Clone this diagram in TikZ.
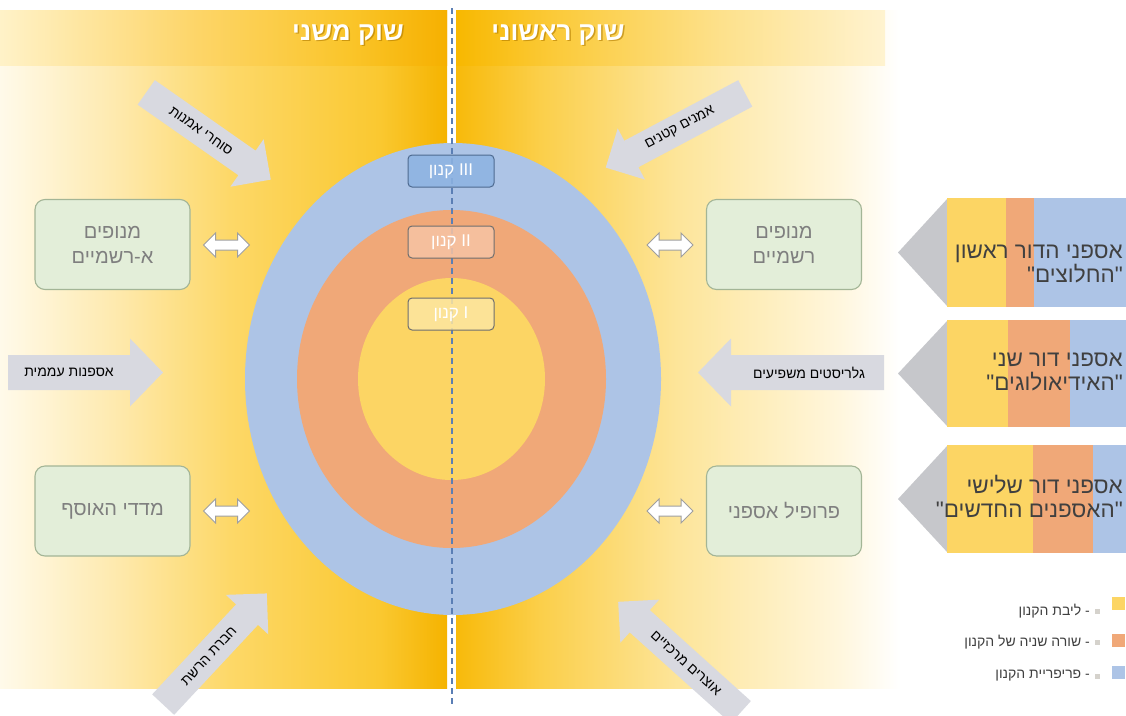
\documentclass[tikz,border=0pt]{standalone}
\usepackage{fontspec}
\setmainfont{Liberation Sans}
\newfontfamily\heb[Script=Hebrew,Ligatures=TeXOff]{Liberation Sans}
\TeXXeTstate=1
\usetikzlibrary{shapes.geometric}
\newcommand\HR[1]{{\heb\beginR #1\endR}}
\newcommand\garrow[4]{\fill[garrfill] (-#1/2,-#2) -- (#1/2-#4,-#2) -- (#1/2-#4,-#3) -- (#1/2,0) -- (#1/2-#4,#3) -- (#1/2-#4,#2) -- (-#1/2,#2) -- cycle;}
\newcommand\dblarrow{\filldraw[darr] (-23,0) -- (-11,-12) -- (-11,-5) -- (11,-5) -- (11,-12) -- (23,0) -- (11,12) -- (11,5) -- (-11,5) -- (-11,12) -- cycle;}

\definecolor{cyel}{HTML}{FCD564}
\definecolor{cora}{HTML}{F0A878}
\definecolor{cblu}{HTML}{ADC4E6}
\definecolor{garr}{HTML}{D8D9E0}
\definecolor{pgray}{HTML}{C6C7CB}
\definecolor{gboxf}{HTML}{E3EED9}
\definecolor{gboxb}{HTML}{A3B596}
\definecolor{gtxt}{HTML}{7F7F7F}
\definecolor{dtxt}{HTML}{404040}
\definecolor{dashc}{HTML}{5B7FB5}
\definecolor{kIIIf}{HTML}{8DB3E2}
\definecolor{kIIIb}{HTML}{4E6A90}
\definecolor{kIIf}{HTML}{F7C4A4}
\definecolor{kIf}{HTML}{FCE6A0}
\definecolor{kb}{HTML}{6E6E6E}
\definecolor{shadowc}{HTML}{B07A00}
\definecolor{lp0}{HTML}{FFFAEA}
\definecolor{lp1}{HTML}{FEEAB0}
\definecolor{lp2}{HTML}{FDD868}
\definecolor{lp3}{HTML}{FAC830}
\definecolor{lp4}{HTML}{F5B300}
\definecolor{rp0}{HTML}{F8BA0A}
\definecolor{rp1}{HTML}{FBCF4A}
\definecolor{rp2}{HTML}{FDE59A}
\definecolor{rp3}{HTML}{FFF6DC}
\definecolor{rp4}{HTML}{FFFFFF}
\definecolor{hl0}{HTML}{FFF2C8}
\definecolor{hl1}{HTML}{FDD568}
\definecolor{hl2}{HTML}{FAC52A}
\definecolor{hl3}{HTML}{F6B000}
\definecolor{hr0}{HTML}{F8B800}
\definecolor{hr1}{HTML}{FBCB3C}
\definecolor{hr2}{HTML}{FDE18C}
\definecolor{hr3}{HTML}{FFF3D0}
\definecolor{lmk}{HTML}{D5D2CC}

\pgfdeclarehorizontalshading{leftpanel}{100bp}{color(0bp)=(lp0); color(25bp)=(lp0); color(37.5bp)=(lp1); color(50.7bp)=(lp2); color(67.5bp)=(lp3); color(75bp)=(lp4); color(100bp)=(lp4)}
\pgfdeclarehorizontalshading{rightpanel}{100bp}{color(0bp)=(rp0); color(25bp)=(rp0); color(34.5bp)=(rp1); color(50bp)=(rp2); color(68bp)=(rp3); color(75bp)=(rp4); color(100bp)=(rp4)}
\pgfdeclarehorizontalshading{lefthead}{100bp}{color(0bp)=(hl0); color(25bp)=(hl0); color(47bp)=(hl1); color(64bp)=(hl2); color(75bp)=(hl3); color(100bp)=(hl3)}
\pgfdeclarehorizontalshading{righthead}{100bp}{color(0bp)=(hr0); color(25bp)=(hr0); color(37bp)=(hr1); color(56bp)=(hr2); color(75bp)=(hr3); color(100bp)=(hr3)}

\begin{document}
\begin{tikzpicture}[x=1pt,y=-1pt,
  garrfill/.style={fill=garr},
  darr/.style={draw=gray!75, line width=1pt, fill=white, line join=miter},
  gbox/.style={draw=gboxb, line width=1.1pt, fill=gboxf, rounded corners=10pt,
    minimum width=155pt, minimum height=90pt, text=gtxt, inner sep=0pt,
    font=\fontsize{20}{25}\selectfont, align=center},
  kbox/.style={draw=kb, line width=1pt, rounded corners=4pt, minimum width=86pt,
    minimum height=32pt, text=white, inner sep=0pt, fill opacity=0.85, text opacity=1,
    font=\fontsize{17}{20}\selectfont},
  atext/.style={text=black, font=\fontsize{14}{16}\selectfont, inner sep=0pt},
  ptext/.style={text=dtxt, font=\fontsize{22.5}{24}\selectfont, align=right, inner sep=0pt, anchor=east},
  htext/.style={text=white, font=\fontsize{26}{30}\selectfont\bfseries, inner sep=0pt},
  ltext/.style={text=dtxt, font=\fontsize{14}{16}\selectfont, inner sep=0pt, anchor=east},
  lsq/.style={minimum size=13pt, inner sep=0pt},
  lmark/.style={fill=lmk, minimum size=5pt, inner sep=0pt},
  dashline/.style={draw=dashc, line width=1.2pt, dash pattern=on 6pt off 4pt}
]
\useasboundingbox (0,0) rectangle (1126,715);
\fill[white] (0,0) rectangle (1126,715);

% panels
\shade[shading=leftpanel] (0,10) rectangle (447,688);
\shade[shading=rightpanel] (456,10) rectangle (900,688);
\shade[shading=lefthead] (0,10) rectangle (447,65);
\shade[shading=righthead] (456,10) rectangle (885,65);

% header texts
\node[htext, text=shadowc, opacity=0.6] (hleftsh) at (349.5,36.5) {\HR{שוק משני}};
\node[htext] (hleft) at (348,35) {\HR{שוק משני}};
\node[htext, text=shadowc, opacity=0.6] (hrightsh) at (559.5,36.5) {\HR{שוק ראשוני}};
\node[htext] (hright) at (558,35) {\HR{שוק ראשוני}};

% ellipses
\node[ellipse, fill=cblu, minimum width=416pt, minimum height=472pt, inner sep=0pt] (outer) at (453,379) {};
\node[ellipse, fill=cora, minimum width=309pt, minimum height=338pt, inner sep=0pt] (middle) at (451.5,379) {};
\node[ellipse, fill=cyel, minimum width=187pt, minimum height=202pt, inner sep=0pt] (inner) at (451.5,379) {};

% dashed divider
\coordinate (dtop) at (452,8);
\coordinate (dbot) at (452,706);
\draw[dashline] (dtop) -- (dbot);

% canon labels
\node[kbox, fill=kIIIf, draw=kIIIb] (k3) at (451,171) {\HR{III~קנון}};
\node[kbox, fill=kIIf] (k2) at (451,242) {\HR{II~קנון}};
\node[kbox, fill=kIf] (k1) at (451,314) {\HR{I~קנון}};

% green boxes
\node[gbox] (lev1) at (112.5,244.5) {\HR{מנופים}\\\HR{א-רשמיים}};
\node[gbox] (idx) at (112.5,511) {\HR{מדדי האוסף}};
\node[gbox] (lev2) at (784,244.5) {\HR{מנופים}\\\HR{רשמיים}};
\node[gbox] (prof) at (784,511) {\HR{פרופיל אספני}};

% double arrows
\begin{scope}[shift={(226.5,245)}]\dblarrow\end{scope}
\begin{scope}[shift={(670,245)}]\dblarrow\end{scope}
\begin{scope}[shift={(226.5,511)}]\dblarrow\end{scope}
\begin{scope}[shift={(670,511)}]\dblarrow\end{scope}

% gray block arrows
\begin{scope}[shift={(85.5,372.5)}]\garrow{155}{17.5}{34}{33}\end{scope}
\node[atext] (a1) at (69,372.5) {\HR{אספנות עממית}};

\begin{scope}[shift={(791,372.5)}, rotate=180]\garrow{186}{17.5}{34}{33}\end{scope}
\node[atext] (a2) at (809,372.5) {\HR{גלריסטים משפיעים}};

\begin{scope}[shift={(208.5,136)}, rotate=-35]\garrow{152}{15}{29}{29}\end{scope}
\node[atext, rotate=-35] (a3) at (201,131) {\HR{סוחרי אמנות}};

\begin{scope}[shift={(675.5,130.5)}, rotate=208]\garrow{158}{15}{29}{29}\end{scope}
\node[atext, rotate=28] (a4) at (680,128) {\HR{אמנים קטנים}};

\begin{scope}[shift={(215,649)}, rotate=47]\garrow{152}{15}{29}{29}\end{scope}
\node[atext, rotate=47] (a5) at (209,656) {\HR{חברת הרשת}};

\begin{scope}[shift={(679.5,657)}, rotate=138]\garrow{165}{15}{29}{29}\end{scope}
\node[atext, rotate=-42] (a6) at (686,663) {\HR{אוצרים מרכזיים}};

% right generation pentagons
\fill[pgray] (898,252.5) -- (948,198) -- (948,307) -- cycle;
\fill[cyel] (947,198) rectangle (1006,307);
\fill[cora] (1006,198) rectangle (1034,307);
\fill[cblu] (1034,198) rectangle (1126,307);
\node[ptext] (g1) at (1123,264) {\HR{אספני הדור ראשון}\\\HR{"החלוצים"}};

\fill[pgray] (898,373.5) -- (948,320) -- (948,427) -- cycle;
\fill[cyel] (947,320) rectangle (1008,427);
\fill[cora] (1008,320) rectangle (1070,427);
\fill[cblu] (1070,320) rectangle (1126,427);
\node[ptext] (g2) at (1123,371.5) {\HR{אספני דור שני}\\\HR{"האידיאולוגים"}};

\fill[pgray] (898,499) -- (948,445) -- (948,553) -- cycle;
\fill[cyel] (947,445) rectangle (1033,553);
\fill[cora] (1033,445) rectangle (1093,553);
\fill[cblu] (1093,445) rectangle (1126,553);
\node[ptext] (g3) at (1123,496.5) {\HR{אספני דור שלישי}\\\HR{"האספנים החדשים"}};

% legend
\node[lsq, fill=cyel] (lsq1) at (1118.5,603.5) {};
\node[lsq, fill=cora] (lsq2) at (1118.5,640) {};
\node[lsq, fill=cblu] (lsq3) at (1118.5,672.5) {};
\node[lmark] (lm1) at (1097,611) {};
\node[lmark] (lm2) at (1097,642) {};
\node[lmark] (lm3) at (1097,676) {};
\node[ltext] (lt1) at (1090,611) {\HR{- ליבת הקנון}};
\node[ltext] (lt2) at (1090,642) {\HR{- שורה שניה של הקנון}};
\node[ltext] (lt3) at (1090,676) {\HR{- פריפריית הקנון}};
\end{tikzpicture}
\end{document}
